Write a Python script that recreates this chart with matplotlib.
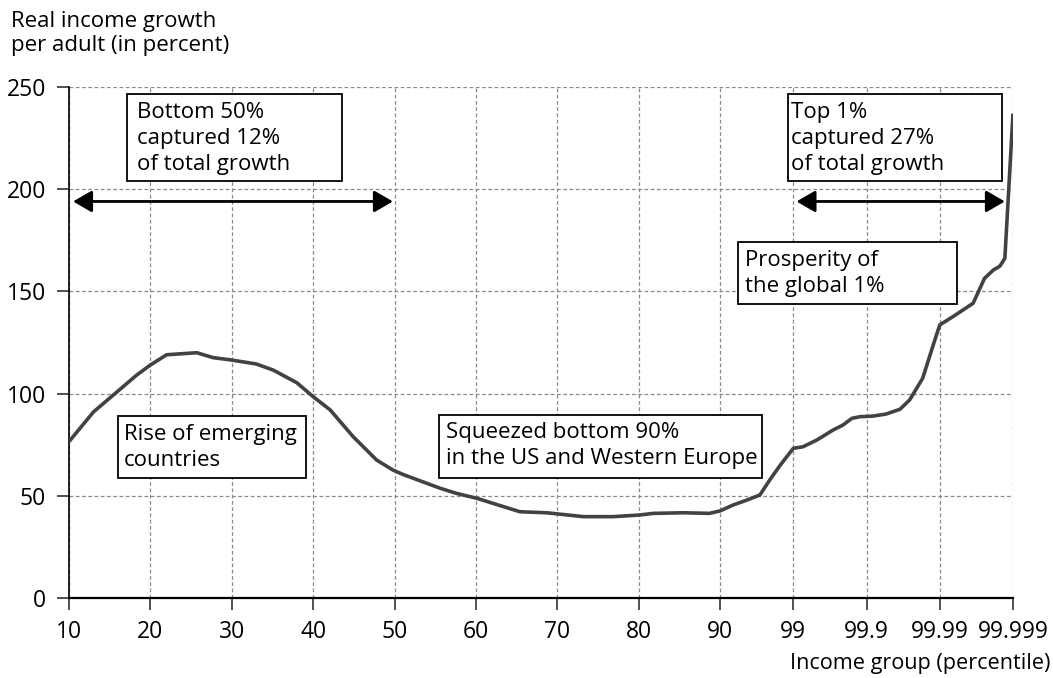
import matplotlib.pyplot as plt
from matplotlib.patches import Rectangle
import numpy as np

plt.rcParams['font.family'] = ['Open Sans', 'DejaVu Sans']

# Percentile groups and real income growth per adult (percent)
percentiles = [10, 13, 15.65, 18.3, 20, 22, 25.7, 27.7, 30, 33, 35.1, 38, 40, 42.1,
               44.9, 47.8, 49.8, 51, 55.6, 57.6, 60.1, 65.4, 68.7, 73.2, 76.9, 80.1,
               81.8, 85.5, 88.7, 90, 91.6, 93.3, 94.9, 96.1, 97.4, 99, 99.12, 99.29,
               99.49, 99.61, 99.72, 99.82, 99.908, 99.924, 99.941, 99.953, 99.969,
               99.982, 99.99, 99.9916, 99.9941, 99.9955, 99.9966, 99.9974, 99.998,
               99.999]
growth = [76.5, 91, 100, 109, 114, 119, 120, 117.6, 116.4, 114.5, 111.5, 105.3, 98.5, 92,
          79, 67.5, 62.6, 60.5, 53.7, 51.2, 48.8, 42.2, 41.7, 39.8, 39.8, 40.6,
          41.4, 41.7, 41.4, 42.6, 45.5, 47.9, 50.4, 57.7, 65, 73.2, 74, 77.3,
          82.2, 84.6, 87.9, 88.7, 89, 90, 92.3, 96.9, 107.5,
          123.8, 133.6, 137.6, 144.2, 156.4, 160.5, 162.4, 166.2,
          237]

x_ticks = [10, 20, 30, 40, 50, 60, 70, 80, 90, 99, 99.9, 99.99, 99.999]
x_tick_labels = ['10', '20', '30', '40', '50', '60', '70', '80', '90',
                 '99', '99.9', '99.99', '99.999']
y_ticks = [0, 50, 100, 150, 200, 250]

# spans of the two arrows (percentile from, to) and their height
bottom_span = (10.5, 49.8)
top_span = (99.04, 99.998)
arrow_y = 194


# piecewise axis: 10..99 linear, then 99-99.9, 99.9-99.99, 99.99-99.999 each 9 units
def fwd(p):
    p = np.asarray(p, dtype=float)
    return np.where(p <= 99, p,
           np.where(p <= 99.9, 99 + (p - 99) * 10,
           np.where(p <= 99.99, 108 + (p - 99.9) * 100,
                    117 + (p - 99.99) * 1000)))


def inv(x):
    x = np.asarray(x, dtype=float)
    return np.where(x <= 99, x,
           np.where(x <= 108, 99 + (x - 99) / 10,
           np.where(x <= 117, 99.9 + (x - 108) / 100,
                    99.99 + (x - 117) / 1000)))


fig = plt.figure(figsize=(10.53, 6.78), dpi=100)
ax = fig.add_axes([69 / 1053, 80 / 678, 944 / 1053, 511 / 678])

ax.set_xscale('function', functions=(fwd, inv))
ax.set_xlim(10, 99.999)
ax.set_ylim(0, 250)

ax.plot(percentiles, growth, color='#424242', lw=2.6, solid_capstyle='butt', zorder=4)

ax.set_xticks(x_ticks)
ax.set_xticklabels(x_tick_labels)
ax.set_yticks(y_ticks)
ax.xaxis.set_minor_locator(plt.NullLocator())
ax.tick_params(axis='both', labelsize=16.5, direction='out', length=8.6, width=1.2,
               color='#333333')
ax.tick_params(axis='x', pad=7)
ax.tick_params(axis='y', pad=8)

ax.grid(True, ls=(0, (3, 2)), color='#8a8a8a', lw=0.9)
ax.set_axisbelow(True)
for s in ['top', 'right']:
    ax.spines[s].set_visible(False)
ax.spines['left'].set_linewidth(1.2)
ax.spines['bottom'].set_linewidth(1.6)

# arrows
for span in [bottom_span, top_span]:
    ax.annotate('', xy=(span[1], arrow_y), xytext=(span[0], arrow_y),
                arrowprops=dict(arrowstyle='<|-|>,head_length=0.95,head_width=0.55',
                                lw=2, color='black', mutation_scale=12,
                                shrinkA=0, shrinkB=0), zorder=5)


def px(x):
    return (x - 69) / 944


def py(y):
    return (598 - y) / 511


boxes = [
    ((127.3, 94, 341.7, 181), (137, 102), 'Bottom 50%\ncaptured 12%\nof total growth'),
    ((788.3, 94, 1001.7, 181), (791, 102), 'Top 1%\ncaptured 27%\nof total growth'),
    ((738.3, 242.3, 956.7, 304), (745, 250), 'Prosperity of\nthe global 1%'),
    ((117.7, 415.7, 305.7, 478.3), (124, 424), 'Rise of emerging\ncountries'),
    ((439, 415, 761.7, 478.3), (445.5, 422), 'Squeezed bottom 90%\nin the US and Western Europe'),
]
for (x0, y0, x1, y1), (tx, ty), txt in boxes:
    ax.add_patch(Rectangle((px(x0), py(y1)), px(x1) - px(x0), py(y0) - py(y1),
                           transform=ax.transAxes, facecolor='white', edgecolor='black',
                           lw=1.3, zorder=6))
    ax.text(px(tx), py(ty), txt, transform=ax.transAxes, ha='left', va='top',
            fontsize=16, linespacing=1.3, zorder=7)

fig.text(11 / 1053, 1 - 11 / 678, 'Real income growth\nper adult (in percent)',
         ha='left', va='top', fontsize=16, linespacing=1.16)
fig.text(1050 / 1053, 1 - 653 / 678, 'Income group (percentile)',
         ha='right', va='top', fontsize=15.6)

fig.savefig('out.png', dpi=100)
